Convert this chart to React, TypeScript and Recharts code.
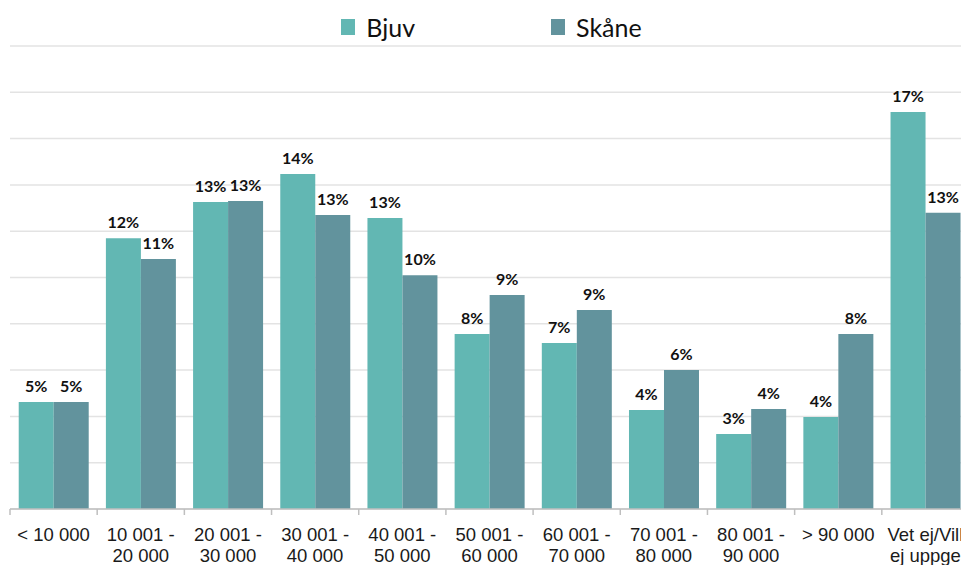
import React from "react";
import { BarChart, Bar, XAxis, YAxis, CartesianGrid, Legend, LabelList } from "recharts";

const categories = [
  "< 10 000",
  "10 001 -\n20 000",
  "20 001 -\n30 000",
  "30 001 -\n40 000",
  "40 001 -\n50 000",
  "50 001 -\n60 000",
  "60 001 -\n70 000",
  "70 001 -\n80 000",
  "80 001 -\n90 000",
  "> 90 000",
  "Vet ej/Vill\nej uppge",
];
const bjuv = [4.62, 11.7, 13.26, 14.47, 12.57, 7.56, 7.17, 4.28, 3.24, 3.97, 17.15];
const skane = [4.62, 10.8, 13.3, 12.7, 10.1, 9.24, 8.6, 6.0, 4.32, 7.56, 12.8];
const yTicks = [0, 2, 4, 6, 8, 10, 12, 14, 16, 18, 20];
const seriesNames = ["Bjuv", "Skåne"];
const colors = ["#62b7b3", "#62939d"];

const data = categories.map((c, i) => ({ cat: c, bjuv: bjuv[i], skane: skane[i] }));

const W = 961;
const H = 557;
const M = { top: 0, right: 0, left: 2, bottom: 0 };
const BW = (W - M.left - M.right) / categories.length;

const Tick = (props: any) => {
  const { x, y, payload, index } = props;
  const lines = String(payload.value).split("\n");
  return (
    <g>
      <line x1={x - BW / 2} x2={x - BW / 2} y1={y - 8} y2={y - 2} stroke="#bfbfbf" strokeWidth={1.5} />
      {index === categories.length - 1 && (
        <line x1={x + BW / 2} x2={x + BW / 2} y1={y - 8} y2={y - 2} stroke="#bfbfbf" strokeWidth={1.5} />
      )}
      <text x={x} y={y} textAnchor="middle" fontFamily="'Liberation Sans', Arial, sans-serif" fontSize={18.5} fill="#1a1a1a">
        {lines.map((l, i) => (
          <tspan key={i} x={x} dy={i === 0 ? 24 : 21}>
            {l}
          </tspan>
        ))}
      </text>
    </g>
  );
};

const LegendContent = () => (
  <div style={{ height: 38, display: "flex", justifyContent: "center", alignItems: "center", paddingLeft: 4, fontFamily: "Lato, 'Open Sans', sans-serif", fontSize: 25, color: "#111" }}>
    {seriesNames.map((n, i) => (
      <div key={n} style={{ display: "flex", alignItems: "center", marginRight: i === 0 ? 136 : 0 }}>
        <div style={{ width: 14, height: 16, background: colors[i], marginRight: 11 }} />
        <span style={{ lineHeight: "38px" }}>{n}</span>
      </div>
    ))}
  </div>
);

const fmt = (v: any) => `${Math.round(Number(v))}%`;
const labelStyle = { fontFamily: "Lato, 'Open Sans', sans-serif", fontWeight: 700, fontSize: 16, fill: "#111" };

export default function App() {
  return (
    <BarChart width={W} height={H} data={data} margin={M} barCategoryGap="10%" barGap={0}>
      <CartesianGrid vertical={false} stroke="#e3e3e3" strokeWidth={1.5} />
      <XAxis dataKey="cat" interval={0} tickLine={false} axisLine={{ stroke: "#bfbfbf", strokeWidth: 1.5 }} tick={<Tick />} height={56} />
      <YAxis hide domain={[0, 20]} ticks={yTicks} />
      <Legend verticalAlign="top" content={<LegendContent />} />
      <Bar dataKey="bjuv" name="Bjuv" fill={colors[0]} isAnimationActive={false}>
        <LabelList dataKey="bjuv" position="top" offset={10} formatter={fmt} style={labelStyle} />
      </Bar>
      <Bar dataKey="skane" name="Skåne" fill={colors[1]} isAnimationActive={false}>
        <LabelList dataKey="skane" position="top" offset={10} formatter={fmt} style={labelStyle} />
      </Bar>
    </BarChart>
  );
}
